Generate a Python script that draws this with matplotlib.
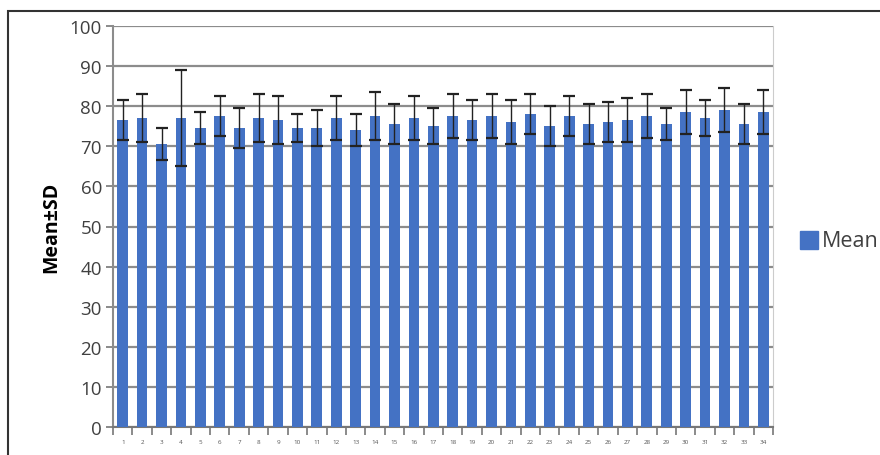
import matplotlib
matplotlib.use("Agg")
import numpy as np
from matplotlib import pyplot as plt
from matplotlib.patches import Rectangle

# categories and values
items = [str(i) for i in range(1, 35)]
means = [76.5, 77, 70.5, 77, 74.5, 77.5, 74.5, 77, 76.5, 74.5,
         74.5, 77, 74, 77.5, 75.5, 77, 75, 77.5, 76.5, 77.5,
         76, 78, 75, 77.5, 75.5, 76, 76.5, 77.5, 75.5, 78.5,
         77, 79, 75.5, 78.5]
sds = [5, 6, 4, 12, 4, 5, 5, 6, 6, 3.5,
       4.5, 5.5, 4, 6, 5, 5.5, 4.5, 5.5, 5, 5.5,
       5.5, 5, 5, 5, 5, 5, 5.5, 5.5, 4, 5.5,
       4.5, 5.5, 5, 5.5]
yticks = list(range(0, 101, 10))

plt.rcParams['font.family'] = ['Open Sans', 'DejaVu Sans']

fig = plt.figure(figsize=(8.8, 4.56), dpi=100)
ax = fig.add_axes([113/880, 28/456, 660/880, 401/456])

x = np.arange(len(items))
ax.bar(x, means, width=0.55, color='#4472C4', zorder=3)
ax.errorbar(x, means, yerr=sds, fmt='none', ecolor='#222222',
            elinewidth=1, capsize=4, capthick=1.6, zorder=4)

ax.set_xlim(-0.5, len(items) - 0.5)
ax.set_ylim(0, 100)
ax.set_yticks(yticks)
ax.set_yticklabels([str(t) for t in yticks], fontsize=13.5, color='#404040')
ax.yaxis.grid(True, color='#8c8c8c', linewidth=1.6, zorder=0)
ax.set_axisbelow(True)

# category labels centred, tick marks between categories
ax.set_xticks(x)
ax.set_xticklabels(items, fontsize=4.5, color='#555555')
ax.tick_params(axis='x', length=0, pad=9)
ax.set_xticks(np.arange(-0.5, len(items)), minor=True)
ax.tick_params(axis='x', which='minor', length=6, width=1.2, color='#777777')
ax.tick_params(axis='y', length=5, width=1.2, color='#777777', pad=3)

ax.spines['top'].set_visible(False)
ax.spines['right'].set_color('#cccccc')
ax.spines['left'].set_color('#8c8c8c')
ax.spines['left'].set_linewidth(1.5)
ax.spines['bottom'].set_color('#777777')
ax.spines['bottom'].set_linewidth(1.5)

ax.set_ylabel('Mean±SD', fontsize=14, fontweight='bold', labelpad=6)

# legend placed to the right, clipped by figure edge like the reference
fig.patches.append(Rectangle((800/880, 1 - 250/456), 18/880, 18/456,
                             transform=fig.transFigure, color='#4472C4'))
fig.text(822/880, 1 - 242/456, 'Mean', fontsize=15.5, color='#404040',
         va='center', ha='left')

# outer chart frame
fig.patches.append(Rectangle((8/880, -0.05), 1.0, 1 - 12/456 + 0.05,
                             transform=fig.transFigure, fill=False,
                             edgecolor='#333333', linewidth=1.5))

fig.savefig('out.png', dpi=100)
